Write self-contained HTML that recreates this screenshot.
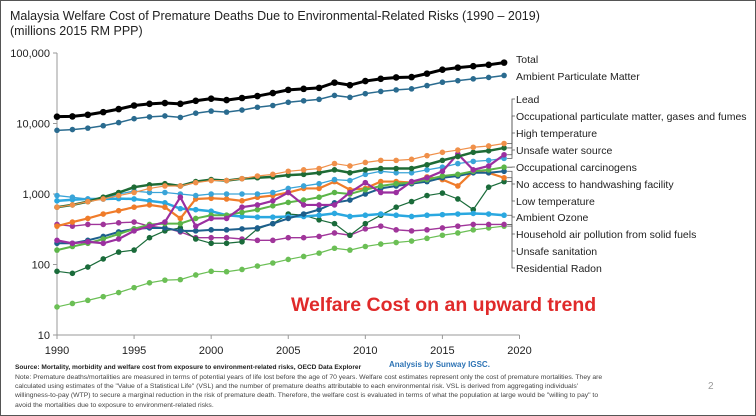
<!DOCTYPE html>
<html><head><meta charset="utf-8"><style>
body{margin:0;background:#fff;font-family:"Liberation Sans",sans-serif;}
#wrap{position:relative;width:754px;height:414px;border:1px solid #555;overflow:hidden;background:#fff}
.title{position:absolute;left:9px;top:8px;font-size:12.5px;color:#222;line-height:15px}
.foot{position:absolute;left:14px;font-size:6.8px;color:#444;line-height:9.2px;white-space:nowrap}
</style></head><body>
<div id="wrap">
<div class="title">Malaysia Welfare Cost of Premature Deaths Due to Environmental-Related Risks (1990 – 2019)<br>(millions 2015 RM PPP)</div>
<svg id="chart" width="756" height="360" style="position:absolute;left:0;top:0"></svg>
<div class="foot" style="top:362px;font-weight:bold;color:#222;font-size:6.6px">Source: Mortality, morbidity and welfare cost from exposure to environment-related risks, OECD Data Explorer</div>
<div style="position:absolute;left:388px;top:359px;font-size:8px;color:#2e74b5;font-weight:bold">Analysis by Sunway IGSC.</div>
<div class="foot" style="top:372px">Note: Premature deaths/mortalities are measured in terms of potential years of life lost before the age of 70 years. Welfare cost estimates represent only the cost of premature mortalities. They are<br>calculated using estimates of the "Value of a Statistical Life" (VSL) and the number of premature deaths attributable to each environmental risk. VSL is derived from aggregating individuals'<br>willingness-to-pay (WTP) to secure a marginal reduction in the risk of premature death. Therefore, the welfare cost is evaluated in terms of what the population at large would be "willing to pay" to<br>avoid the mortalities due to exposure to environment-related risks.</div>
<div style="position:absolute;left:707px;top:380px;font-size:10px;color:#999">2</div>
</div>
<script>
const years=[1990,1991,1992,1993,1994,1995,1996,1997,1998,1999,2000,2001,2002,2003,2004,2005,2006,2007,2008,2009,2010,2011,2012,2013,2014,2015,2016,2017,2018,2019];
const xTicks=[1990,1995,2000,2005,2010,2015,2020];
const yTicks=[10,100,1000,10000,100000];
const yTickLabels=["10","100","1,000","10,000","100,000"];
const total=[12500,12600,13300,14500,16000,18000,19000,19500,19000,21000,22500,21500,23000,24500,27000,30000,31000,32000,38000,35000,40000,43000,45000,45500,51000,58000,62000,65000,68000,73000];
const ambientPM=[8000,8200,8600,9300,10300,11700,12400,12800,12200,14000,15000,14500,15500,17000,18000,20000,21000,22000,25000,23500,26500,28500,30000,31000,34500,38500,40500,43000,45000,48000];
const lead=[650,700,780,850,950,1050,1200,1300,1300,1450,1550,1550,1650,1800,1900,2100,2200,2300,2700,2500,2800,3000,3000,3100,3500,3900,4200,4600,4800,5200];
const occParticulate=[650,700,780,900,1050,1250,1350,1400,1300,1500,1600,1550,1650,1700,1750,1850,1900,2000,2200,2000,2200,2300,2300,2300,2600,3000,3400,3900,4100,4500];
const highTemp=[220,200,210,200,230,300,350,400,900,350,450,450,650,700,800,1050,700,700,700,1050,1450,1050,1050,1500,1700,2100,3700,2200,2500,3600];
const unsafeWater=[950,900,850,850,1000,1100,1050,1050,1000,950,1000,1000,1000,1000,1050,1200,1300,1400,1600,1550,1900,2100,2000,2000,2200,2400,2700,2900,3000,3200];
const occCarcinogens=[160,180,200,230,270,320,370,380,380,450,500,500,550,600,680,760,820,900,1050,1000,1150,1300,1400,1450,1600,1800,1900,2100,2200,2400];
const noHandwashing=[200,200,220,250,290,320,330,330,300,300,310,310,320,330,380,450,520,600,750,820,1000,1200,1300,1400,1500,1700,1800,2000,2000,2100];
const lowTemp=[350,400,450,520,580,650,700,650,450,850,870,850,800,900,950,1050,1200,1200,1500,1150,1200,1500,1500,1450,1750,1600,1300,2100,2000,1700];
const ambientOzone=[800,830,850,850,860,850,800,750,620,600,570,500,480,470,470,480,480,500,530,480,500,520,500,480,500,510,520,530,520,500];
const household=[80,75,92,120,150,160,240,300,330,230,200,200,210,320,380,520,500,430,380,260,380,500,650,780,950,1030,850,600,1250,1500];
const unsafeSanitation=[370,350,370,370,390,400,350,330,290,240,240,240,230,220,220,240,240,250,280,260,320,350,310,300,310,330,350,370,370,370];
const radon=[25,28,31,35,40,47,55,60,61,71,80,79,85,95,105,118,130,145,170,160,180,195,205,215,235,260,280,310,330,350];
const seriesNames=["Total","Ambient Particulate Matter","Lead","Occupational particulate matter, gases and fumes","High temperature","Unsafe water source","Occupational carcinogens","No access to handwashing facility","Low temperature","Ambient Ozone","Household air pollution from solid fuels","Unsafe sanitation","Residential Radon"];
const seriesData=[total,ambientPM,lead,occParticulate,highTemp,unsafeWater,occCarcinogens,noHandwashing,lowTemp,ambientOzone,household,unsafeSanitation,radon];
const colors=["#000","#2a6b8f","#f0904a","#1e6b35","#9b2fa0","#3aa4d8","#5cb548","#1d5f8c","#f07c2a","#2aa8e0","#1a6b3a","#a0359a","#6bbf55"];
const widths=[3,1.5,1.2,2.5,2.2,1.3,2,2,2.2,2.5,1.2,1.4,1.2];
const labelY=[58,75,98,115,132,149,166,183,200,216,233,250,267];

const X0=56,X1=518.5,Y100k=52,DEC=70.5;
const x=v=>X0+(v-1990)*(X1-X0)/30;
const y=v=>Y100k+(5-Math.log10(v))*DEC;
const svg=document.getElementById('chart');
const NS="http://www.w3.org/2000/svg";
function mk(t,a){const e=document.createElementNS(NS,t);for(const k in a)e.setAttribute(k,a[k]);svg.appendChild(e);return e;}
let ax=mk('line',{x1:X0,x2:X0,y1:y(100000),y2:y(10),stroke:'#999'});


let bx=mk('line',{x1:X0,x2:X1,y1:y(10),y2:y(10),stroke:'#999'});


yTicks.forEach((v,i)=>{
 mk('line',{x1:X0-4,x2:X0,y1:y(v),y2:y(v),stroke:'#999'});
 const t=mk('text',{x:X0-7,y:y(v)+4,'text-anchor':'end','font-size':11,fill:'#222'});t.textContent=yTickLabels[i];
 
 
});
xTicks.forEach(v=>{
 mk('line',{x1:x(v),x2:x(v),y1:y(10),y2:y(10)+4,stroke:'#999'});
 const t=mk('text',{x:x(v),y:y(10)+19,'text-anchor':'middle','font-size':11,fill:'#222'});t.textContent=v;
 
 
});
for(let s=seriesData.length-1;s>=0;s--){
 const d=seriesData[s];const g=document.createElementNS(NS,'g');svg.appendChild(g);
 
 
 const p=document.createElementNS(NS,'polyline');
 p.setAttribute('points',d.map((v,i)=>x(years[i])+','+y(v)).join(' '));
 p.setAttribute('fill','none');p.setAttribute('stroke',colors[s]);p.setAttribute('stroke-width',widths[s]);
 g.appendChild(p);
 d.forEach((v,i)=>{const c=document.createElementNS(NS,'circle');c.setAttribute('cx',x(years[i]));c.setAttribute('cy',y(v));c.setAttribute('r',s==0?3.3:2.8);c.setAttribute('fill',colors[s]);
 
 
 g.appendChild(c);});
}
seriesNames.forEach((n,s)=>{
 const ye=y(seriesData[s][29]),xe=x(2019);
 if(s>=2){mk('polyline',{points:`${xe+3},${ye} ${511},${ye} ${511},${labelY[s]} ${514},${labelY[s]}`,fill:'none',stroke:'#555','stroke-width':0.8});}
 const t=mk('text',{x:515,y:labelY[s]+4,'font-size':10.5,fill:'#222'});t.textContent=n;
 
 
});
const h=mk('text',{x:290,y:310,'font-size':19.5,'font-weight':'bold',fill:'#e02a2a'});h.textContent='Welfare Cost on an upward trend';


</script>
</body></html>
